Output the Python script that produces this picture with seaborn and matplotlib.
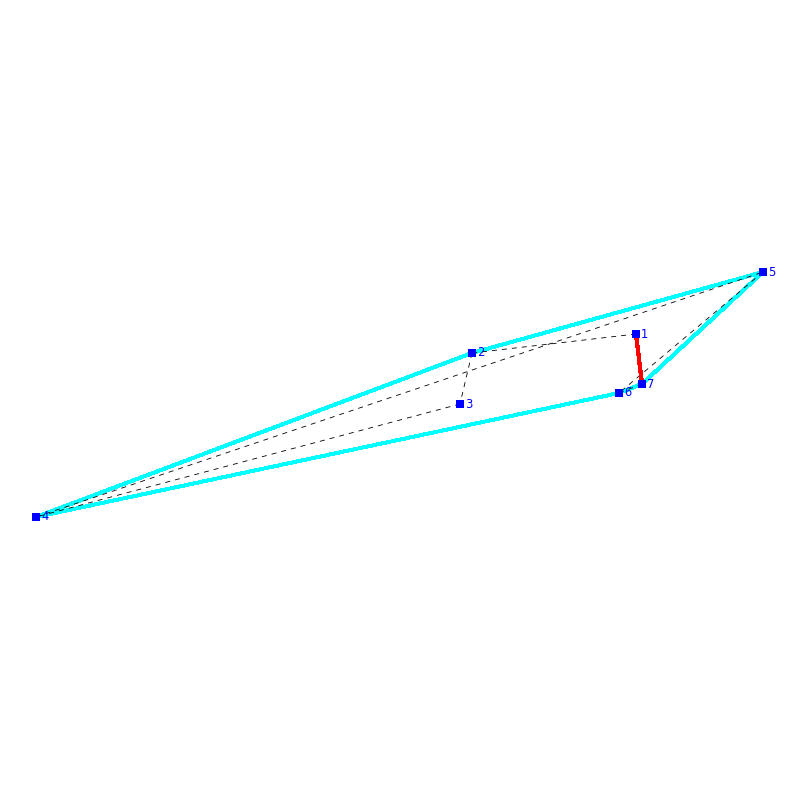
import matplotlib
matplotlib.use("Agg")
import matplotlib.pyplot as plt
import pandas as pd
import seaborn as sns

labels = ["1", "2", "3", "4", "5", "6", "7"]
node_x = [636, 472, 460, 36, 763, 619, 642]
node_y = [334, 353, 404, 517, 272, 393, 384]
hull_edges = [("2", "5"), ("5", "7"), ("7", "6"), ("6", "4"), ("4", "2")]
tour_edges = [("1", "2"), ("2", "3"), ("3", "4"), ("4", "5"), ("5", "6"), ("6", "7")]
highlight_edges = [("7", "1")]

sns.set_theme(style="white")
plt.rcParams["font.family"] = ["DejaVu Sans"]

nodes = pd.DataFrame({"label": labels, "x": node_x, "y": node_y}).set_index("label")


def edge_frame(edges):
    rows = []
    for i, (a, b) in enumerate(edges):
        for n in (a, b):
            rows.append({"edge": i, "x": nodes.loc[n, "x"], "y": nodes.loc[n, "y"]})
    return pd.DataFrame(rows)


fig = plt.figure(figsize=(8, 8), dpi=100, facecolor="white")
ax = fig.add_axes([0, 0, 1, 1])


def draw(edges, **kw):
    sns.lineplot(data=edge_frame(edges), x="x", y="y", units="edge", estimator=None,
                 sort=False, ax=ax, legend=False, **kw)


draw(hull_edges, color="#00ffff", linewidth=2.1, zorder=2, antialiased=False)
draw(tour_edges, color="black", linewidth=0.6, zorder=3, linestyle=(0, (6, 6)), antialiased=True)
draw(highlight_edges, color="#ff0000", linewidth=2.3, zorder=4, antialiased=False)

sns.scatterplot(data=nodes.reset_index(), x="x", y="y", ax=ax, marker="s", s=27,
                color="#0000ff", linewidth=0, zorder=5, legend=False)

for lab, row in nodes.iterrows():
    ax.annotate(lab, (row["x"], row["y"]), xytext=(3.8, 0), textcoords="offset points",
                color="#0000ff", fontsize=8.3, va="center", ha="left", zorder=6)

ax.set_xlim(0, 800)
ax.set_ylim(800, 0)
ax.axis("off")
fig.savefig("out.png", dpi=100, facecolor="white")
